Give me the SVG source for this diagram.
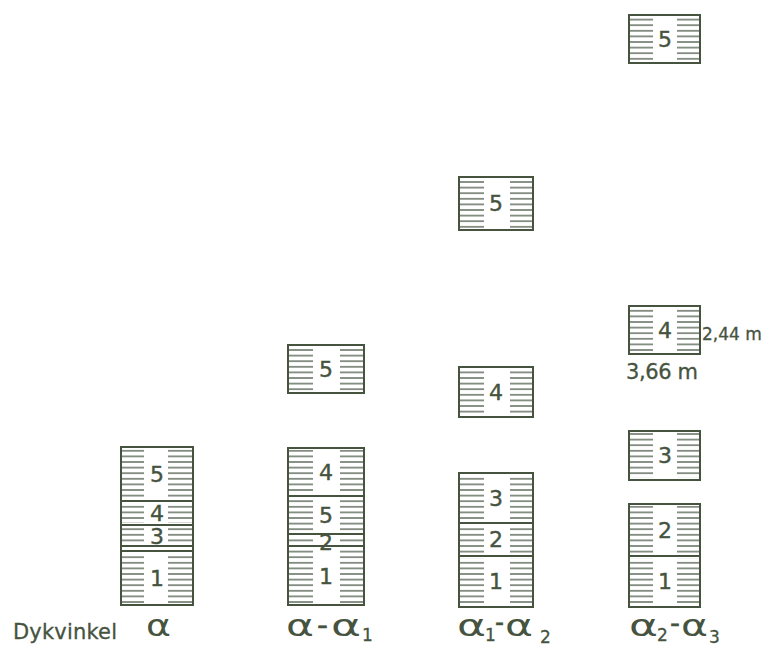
<svg xmlns="http://www.w3.org/2000/svg" width="770" height="649" viewBox="0 0 770 649">
<defs>
<pattern id="hatch" patternUnits="userSpaceOnUse" x="0" y="0" width="10" height="5.6">
<line x1="0" y1="2.8" x2="10" y2="2.8" stroke="#4f5c4a" stroke-width="1.3"/>
</pattern>
<style>
.box{fill:none;stroke:#46533f;stroke-width:2}
.h{fill:url(#hatch)}
.num{font-family:"DejaVu Sans","Liberation Sans",sans-serif;font-size:22px;fill:#46533f;stroke:#46533f;stroke-width:0.4;text-anchor:middle}
.lbl{font-family:"DejaVu Sans","Liberation Sans",sans-serif;font-size:21px;fill:#46533f;stroke:#46533f;stroke-width:0.3}
.alpha{font-family:"DejaVu Sans","Liberation Sans",sans-serif;font-size:30px;fill:#46533f}
.dash{font-family:"DejaVu Sans","Liberation Sans",sans-serif;font-size:26px;fill:#46533f;stroke:#46533f;stroke-width:0.5}
.sub{font-family:"DejaVu Sans","Liberation Sans",sans-serif;font-size:17px;fill:#46533f;stroke:#46533f;stroke-width:0.3}
</style>
</defs>
<rect width="770" height="649" fill="#fff"/>

<!-- Column 1 -->
<g id="col1">
<g id="c1-l5"><rect class="h" x="122" y="449" width="22" height="50"/><rect class="h" x="168" y="449" width="24" height="50"/><rect class="box" x="121" y="447" width="72" height="54"/><text class="num" x="157" y="482">5</text></g>
<g id="c1-l4"><rect class="h" x="122" y="503" width="22" height="20"/><rect class="h" x="168" y="503" width="24" height="20"/><rect class="box" x="121" y="501" width="72" height="24"/><text class="num" x="157" y="521">4</text></g>
<g id="c1-l3"><rect class="h" x="122" y="527" width="22" height="17"/><rect class="h" x="168" y="527" width="24" height="17"/><rect class="box" x="121" y="525" width="72" height="21"/><text class="num" x="157" y="544">3</text></g>
<g id="c1-l2"><rect class="box" x="121" y="546" width="72" height="5"/></g>
<g id="c1-l1"><rect class="h" x="122" y="553" width="22" height="50"/><rect class="h" x="168" y="553" width="24" height="50"/><rect class="box" x="121" y="551" width="72" height="54"/><text class="num" x="157" y="586">1</text></g>
</g>

<!-- Column 2 -->
<g id="col2">
<g id="c2-top5"><rect class="h" x="289" y="347" width="24" height="44"/><rect class="h" x="340" y="347" width="23" height="44"/><rect class="box" x="288" y="345" width="76" height="48"/><text class="num" x="326" y="377">5</text></g>
<g id="c2-l4"><rect class="h" x="289" y="450" width="24" height="44"/><rect class="h" x="340" y="450" width="23" height="44"/><rect class="box" x="288" y="448" width="76" height="48"/><text class="num" x="326" y="480">4</text></g>
<g id="c2-l5"><rect class="h" x="289" y="498" width="24" height="34"/><rect class="h" x="340" y="498" width="23" height="34"/><rect class="box" x="288" y="496" width="76" height="38"/><text class="num" x="326" y="523">5</text></g>
<g id="c2-l2"><rect class="h" x="289" y="536" width="24" height="8"/><rect class="h" x="340" y="536" width="23" height="8"/><rect class="box" x="288" y="534" width="76" height="12"/><text class="num" x="326" y="550">2</text></g>
<g id="c2-l1"><rect class="h" x="289" y="548" width="24" height="55"/><rect class="h" x="340" y="548" width="23" height="55"/><rect class="box" x="288" y="546" width="76" height="59"/><text class="num" x="326" y="584">1</text></g>
</g>

<!-- Column 3 -->
<g id="col3">
<g id="c3-top5"><rect class="h" x="460" y="179" width="24" height="49"/><rect class="h" x="510" y="179" width="22" height="49"/><rect class="box" x="459" y="177" width="74" height="53"/><text class="num" x="496" y="211">5</text></g>
<g id="c3-top4"><rect class="h" x="460" y="369" width="24" height="46"/><rect class="h" x="510" y="369" width="22" height="46"/><rect class="box" x="459" y="367" width="74" height="50"/><text class="num" x="496" y="400">4</text></g>
<g id="c3-l3"><rect class="h" x="460" y="475" width="24" height="46"/><rect class="h" x="510" y="475" width="22" height="46"/><rect class="box" x="459" y="473" width="74" height="50"/><text class="num" x="496" y="506">3</text></g>
<g id="c3-l2"><rect class="h" x="460" y="525" width="24" height="29"/><rect class="h" x="510" y="525" width="22" height="29"/><rect class="box" x="459" y="523" width="74" height="33"/><text class="num" x="496" y="547">2</text></g>
<g id="c3-l1"><rect class="h" x="460" y="558" width="24" height="47"/><rect class="h" x="510" y="558" width="22" height="47"/><rect class="box" x="459" y="556" width="74" height="51"/><text class="num" x="496" y="589">1</text></g>
</g>

<!-- Column 4 -->
<g id="col4">
<g id="c4-top5"><rect class="h" x="630" y="17" width="23" height="44"/><rect class="h" x="677" y="17" width="22" height="44"/><rect class="box" x="629" y="15" width="71" height="48"/><text class="num" x="665" y="47">5</text></g>
<g id="c4-top4"><rect class="h" x="630" y="308" width="23" height="44"/><rect class="h" x="677" y="308" width="22" height="44"/><rect class="box" x="629" y="306" width="71" height="48"/><text class="num" x="665" y="338">4</text></g>
<g id="c4-top3"><rect class="h" x="630" y="433" width="23" height="45"/><rect class="h" x="677" y="433" width="22" height="45"/><rect class="box" x="629" y="431" width="71" height="49"/><text class="num" x="665" y="463">3</text></g>
<g id="c4-l2"><rect class="h" x="630" y="506" width="23" height="48"/><rect class="h" x="677" y="506" width="22" height="48"/><rect class="box" x="629" y="504" width="71" height="52"/><text class="num" x="665" y="538">2</text></g>
<g id="c4-l1"><rect class="h" x="630" y="558" width="23" height="47"/><rect class="h" x="677" y="558" width="22" height="47"/><rect class="box" x="629" y="556" width="71" height="51"/><text class="num" x="665" y="589">1</text></g>
</g>

<!-- Dimension labels -->
<g id="dims">
<text class="lbl" x="702" y="340" style="font-size:17px">2,44 m</text>
<text class="lbl" x="626" y="379" textLength="72" lengthAdjust="spacing">3,66 m</text>
</g>

<!-- Bottom labels -->
<g id="labels">
<text class="lbl" x="13" y="639" textLength="104" lengthAdjust="spacing">Dykvinkel</text>
<g id="lab1"><text class="alpha" x="146" y="636" textLength="25" lengthAdjust="spacingAndGlyphs">α</text></g>
<g id="lab2">
<text class="alpha" x="286" y="636" textLength="28" lengthAdjust="spacingAndGlyphs">α</text>
<text class="dash" x="317" y="634" textLength="11" lengthAdjust="spacingAndGlyphs">-</text>
<text class="alpha" x="331" y="636" textLength="30" lengthAdjust="spacingAndGlyphs">α</text>
<text class="sub" x="362" y="641">1</text>
</g>
<g id="lab3">
<text class="alpha" x="457" y="636" textLength="29" lengthAdjust="spacingAndGlyphs">α</text>
<text class="sub" x="485" y="641">1</text>
<text class="dash" x="495" y="631" textLength="9" lengthAdjust="spacingAndGlyphs">-</text>
<text class="alpha" x="505" y="636" textLength="28" lengthAdjust="spacingAndGlyphs">α</text>
<text class="sub" x="540" y="643">2</text>
</g>
<g id="lab4">
<text class="alpha" x="629" y="636" textLength="29" lengthAdjust="spacingAndGlyphs">α</text>
<text class="sub" x="657" y="641">2</text>
<text class="dash" x="670" y="632" textLength="10" lengthAdjust="spacingAndGlyphs">-</text>
<text class="alpha" x="681" y="636" textLength="27" lengthAdjust="spacingAndGlyphs">α</text>
<text class="sub" x="709" y="643">3</text>
</g>
</g>
</svg>
